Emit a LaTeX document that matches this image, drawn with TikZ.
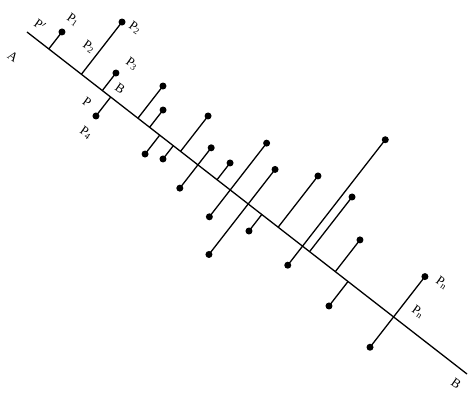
\documentclass[tikz,border=0pt]{standalone}
\usepackage{fontspec}
\setmainfont{Liberation Serif}
\usetikzlibrary{calc}
\begin{document}
\begin{tikzpicture}[x=1pt,y=-1pt,
  dotnode/.style={circle,fill=black,inner sep=0pt,minimum size=7pt},
  seg/.style={line width=1.3pt,black},
  mainline/.style={line width=1.3pt,black},
  lab/.style={font=\fontsize{13}{15}\selectfont,rotate=-35,inner sep=0pt}]
\path[use as bounding box] (0,0) rectangle (468,395);
\coordinate (A) at (27,32);
\coordinate (B) at (467,374);
\draw[mainline] (A) -- (B);
% feet on the line
\coordinate (f1) at ($(A)!27.6pt!(B)$);
\coordinate (f2) at ($(A)!68.9pt!(B)$);
\coordinate (f3) at ($(A)!95.4pt!(B)$);
\coordinate (f4) at ($(A)!106pt!(B)$);
\coordinate (f5) at ($(A)!140.5pt!(B)$);
\coordinate (f6) at ($(A)!155.3pt!(B)$);
\coordinate (f7) at ($(A)!168.1pt!(B)$);
\coordinate (f8) at ($(A)!194.5pt!(B)$);
\coordinate (f9) at ($(A)!185.3pt!(B)$);
\coordinate (f10) at ($(A)!216.5pt!(B)$);
\coordinate (f12) at ($(A)!240.7pt!(B)$);
\coordinate (f13) at ($(A)!257.4pt!(B)$);
\coordinate (f15) at ($(A)!280.2pt!(B)$);
\coordinate (f17) at ($(A)!297.4pt!(B)$);
\coordinate (f18) at ($(A)!318.1pt!(B)$);
\coordinate (f19) at ($(A)!349pt!(B)$);
\coordinate (f21) at ($(A)!357.9pt!(B)$);
\coordinate (f22) at ($(A)!390.5pt!(B)$);
\coordinate (f23) at ($(A)!406.6pt!(B)$);
\coordinate (f24) at ($(A)!464.3pt!(B)$);
% points
\node[dotnode] (p1) at ($(f1)!21.5pt!90:(B)$) {};
\node[dotnode] (p2) at ($(f2)!66.2pt!90:(B)$) {};
\node[dotnode] (p3) at ($(f3)!22.2pt!90:(B)$) {};
\node[dotnode] (p4) at ($(f4)!24pt!-90:(B)$) {};
\node[dotnode] (p5) at ($(f5)!40.8pt!90:(B)$) {};
\node[dotnode] (p6) at ($(f6)!21.9pt!90:(B)$) {};
\node[dotnode] (p7) at ($(f7)!23.9pt!-90:(B)$) {};
\node[dotnode] (p8) at ($(f8)!44.8pt!90:(B)$) {};
\node[dotnode] (p9) at ($(f9)!16.8pt!-90:(B)$) {};
\node[dotnode] (p10) at ($(f10)!21.6pt!90:(B)$) {};
\node[dotnode] (p11) at ($(f10)!29.5pt!-90:(B)$) {};
\node[dotnode] (p12) at ($(f12)!21.2pt!90:(B)$) {};
\node[dotnode] (p13) at ($(f13)!59.3pt!90:(B)$) {};
\node[dotnode] (p14) at ($(f13)!34pt!-90:(B)$) {};
\node[dotnode] (p15) at ($(f15)!43.7pt!90:(B)$) {};
\node[dotnode] (p16) at ($(f15)!64pt!-90:(B)$) {};
\node[dotnode] (p17) at ($(f17)!20.9pt!-90:(B)$) {};
\node[dotnode] (p18) at ($(f18)!64.9pt!90:(B)$) {};
\node[dotnode] (p19) at ($(f19)!134.8pt!90:(B)$) {};
\node[dotnode] (p20) at ($(f19)!24.1pt!-90:(B)$) {};
\node[dotnode] (p21) at ($(f21)!69.2pt!90:(B)$) {};
\node[dotnode] (p22) at ($(f22)!40.2pt!90:(B)$) {};
\node[dotnode] (p23) at ($(f23)!31pt!-90:(B)$) {};
\node[dotnode] (p24) at ($(f24)!51.1pt!90:(B)$) {};
\node[dotnode] (p25) at ($(f24)!38.4pt!-90:(B)$) {};
% projection segments
\draw[seg] (f1) -- (p1.center);
\draw[seg] (f2) -- (p2.center);
\draw[seg] (f3) -- (p3.center);
\draw[seg] (f4) -- (p4.center);
\draw[seg] (f5) -- (p5.center);
\draw[seg] (f6) -- (p6.center);
\draw[seg] (f7) -- (p7.center);
\draw[seg] (f8) -- (p8.center);
\draw[seg] (f9) -- (p9.center);
\draw[seg] (p11.center) -- (p10.center);
\draw[seg] (f12) -- (p12.center);
\draw[seg] (p14.center) -- (p13.center);
\draw[seg] (p16.center) -- (p15.center);
\draw[seg] (f17) -- (p17.center);
\draw[seg] (f18) -- (p18.center);
\draw[seg] (p20.center) -- (p19.center);
\draw[seg] (f21) -- (p21.center);
\draw[seg] (f22) -- (p22.center);
\draw[seg] (f23) -- (p23.center);
\draw[seg] (p25.center) -- (p24.center);
% labels
\node[lab] (lA) at (13,57) {A};
\node[lab] (lB2) at (456,384) {B};
\node[lab] (lP1f) at (40,25) {P$'$};
\node[lab] (lP1) at (73,20) {P\textsubscript{1}};
\node[lab] (lP2f) at (89,47) {P\textsubscript{2}};
\node[lab] (lP2) at (135,28) {P\textsubscript{2}};
\node[lab] (lP3) at (132,64) {P\textsubscript{3}};
\node[lab] (lB1) at (120,89) {B};
\node[lab] (lP4f) at (87,102) {P};
\node[lab] (lP4) at (86,133) {P\textsubscript{4}};
\node[lab] (lPn) at (442,283) {P\textsubscript{n}};
\node[lab] (lPnf) at (418,312) {P\textsubscript{n}};
\end{tikzpicture}
\end{document}
